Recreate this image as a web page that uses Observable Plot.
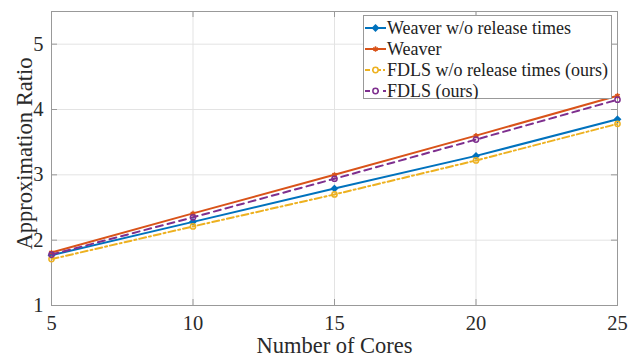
<!DOCTYPE html>
<html>
<head>
<meta charset="utf-8">
<script src="https://cdn.jsdelivr.net/npm/d3@7"></script>
<script src="https://cdn.jsdelivr.net/npm/@observablehq/plot@0.6"></script>
<style>
  html, body { margin: 0; padding: 0; background: #fff; }
  #wrap { position: relative; width: 640px; height: 358px; font-family: "Liberation Serif", "Times New Roman", serif; }
  #legend { position: absolute; left: 363px; top: 15px; }
</style>
</head>
<body>
<div id="wrap"><div id="chart"></div><div id="legend"></div></div>
<script>
const cores = [5, 10, 15, 20, 25];
const weaverNoRelease = [1.77, 2.28, 2.79, 3.29, 3.85];
const weaver = [1.81, 2.41, 3.00, 3.60, 4.21];
const fdlsNoRelease = [1.71, 2.21, 2.70, 3.22, 3.78];
const fdls = [1.78, 2.35, 2.94, 3.54, 4.15];
const seriesNames = ["Weaver w/o release times", "Weaver", "FDLS w/o release times (ours)", "FDLS (ours)"];
const seriesValues = [weaverNoRelease, weaver, fdlsNoRelease, fdls];
const colors = ["#0072BD", "#D95319", "#EDB120", "#7E2F8E"];
const dashes = ["none", "none", "7,3,2,3", "7,5"];
const symbols = ["diamond2", "asterisk", "circle", "circle"];
const xTicks = [5, 10, 15, 20, 25];
const yTicks = [1, 2, 3, 4, 5];

const rows = [];
seriesValues.forEach((vals, s) => cores.forEach((c, i) => rows.push({series: seriesNames[s], s, x: c, y: vals[i]})));

const W = 640, H = 358, mL = 51, mR = 23, mT = 11, mB = 53;
const innerH = H - mT - mB, innerW = W - mL - mR;
const font = '"Liberation Serif", "Times New Roman", serif';

const marks = [
  Plot.gridX(xTicks, {stroke: "#e3e3e3", strokeOpacity: 1}),
  Plot.gridY(yTicks, {stroke: "#e3e3e3", strokeOpacity: 1}),
  Plot.frame({stroke: "#999", strokeWidth: 1}),
  // inward ticks (MATLAB style) on all four sides
  Plot.tickX(xTicks, {x: d => d, insetTop: innerH - 6, stroke: "#999"}),
  Plot.tickX(xTicks, {x: d => d, insetBottom: innerH - 6, stroke: "#999"}),
  Plot.tickY(yTicks, {y: d => d, insetRight: innerW - 6, stroke: "#999"}),
  Plot.tickY(yTicks, {y: d => d, insetLeft: innerW - 6, stroke: "#999"}),
  Plot.axisX(xTicks, {tickSize: 0, tickPadding: 10, fontSize: 20.5, fill: "#2a2a2a", label: null, tickFormat: "d"}),
  Plot.axisY(yTicks, {tickSize: 0, tickPadding: 8, fontSize: 20.5, fill: "#2a2a2a", label: null, tickFormat: "d"})
];
seriesNames.forEach((name, s) => {
  const data = rows.filter(r => r.s === s);
  marks.push(Plot.line(data, {x: "x", y: "y", stroke: colors[s], strokeWidth: 2, strokeDasharray: dashes[s]}));
  marks.push(Plot.dot(data, {x: "x", y: "y", stroke: colors[s], fill: s === 0 ? colors[s] : "none", symbol: symbols[s], r: s === 1 ? 2.5 : 2.6, strokeWidth: 1.5}));
});
marks.push(Plot.text(["Number of Cores"], {frameAnchor: "bottom", textAnchor: "middle", dy: 47, fontSize: 22.5, fill: "#2a2a2a", text: d => d}));
marks.push(Plot.text(["Approximation Ratio"], {frameAnchor: "left", textAnchor: "middle", dx: -27, dy: -5, rotate: -90, fontSize: 22.5, fill: "#2a2a2a", text: d => d}));

const chart = Plot.plot({
  width: W, height: H,
  marginLeft: mL, marginRight: mR, marginTop: mT, marginBottom: mB,
  style: {fontFamily: font, background: "white", overflow: "visible"},
  x: {domain: [5, 25]},
  y: {domain: [1, 5.5]},
  marks
});
document.getElementById("chart").appendChild(chart);

// Legend
const lw = 249, lh = 84, rowH = 21;
const lg = d3.select("#legend").append("svg").attr("width", lw).attr("height", lh);
lg.append("rect").attr("x", 0.5).attr("y", 0.5).attr("width", lw - 1).attr("height", lh - 1).attr("fill", "white").attr("stroke", "#999");
const symMap = {diamond2: d3.symbolDiamond2, asterisk: d3.symbolAsterisk, circle: d3.symbolCircle};
seriesNames.forEach((name, s) => {
  const cy = 13 + s * rowH;
  const g = lg.append("g");
  g.append("line").attr("x1", 2).attr("x2", 23).attr("y1", cy).attr("y2", cy)
    .attr("stroke", colors[s]).attr("stroke-width", 2).attr("stroke-dasharray", dashes[s] === "none" ? null : (s === 2 ? "5,2,2,2" : "5,4"));
  g.append("path").attr("transform", `translate(12.5,${cy})`)
    .attr("d", d3.symbol(symMap[symbols[s]], s === 1 ? 20 : 22)())
    .attr("fill", s === 0 ? colors[s] : "white").attr("stroke", colors[s]).attr("stroke-width", 1.5);
  g.append("text").attr("x", 24).attr("y", cy).attr("dy", "0.35em")
    .attr("font-family", font).attr("font-size", 18).attr("fill", "#222").text(name);
});
</script>
</body>
</html>
